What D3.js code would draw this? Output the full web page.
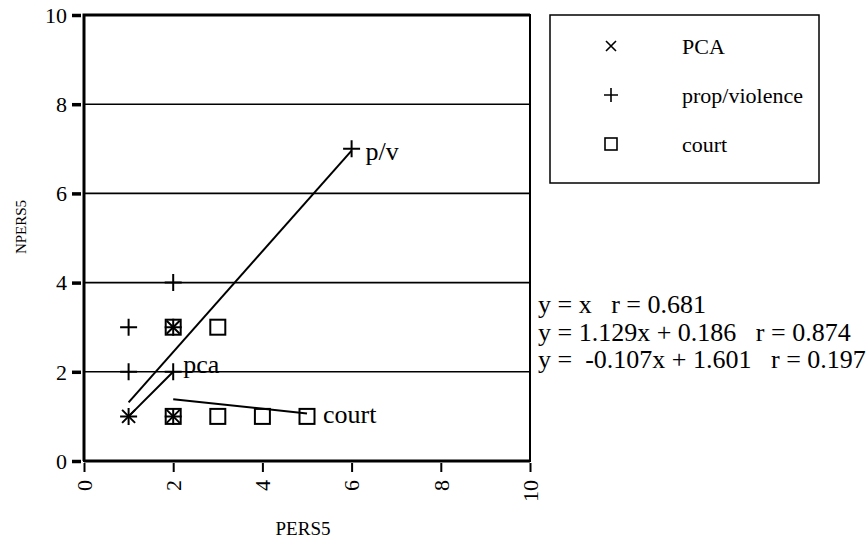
<!DOCTYPE html>
<html>
<head>
<meta charset="utf-8">
<script src="https://cdn.jsdelivr.net/npm/d3@7"></script>
<style>
  body { margin: 0; background: #fff; }
  svg text { font-family: "Liberation Serif", "Times New Roman", serif; white-space: pre; }
</style>
</head>
<body>
<div id="chart"></div>
<script>
(function() {
  /* scatter of PERS5 vs NPERS5 with three fitted lines */
  var pcaX = [1, 2, 2],
      pcaY = [1, 3, 1];
  var pvX = [1, 1, 1, 2, 2, 2, 2, 6],
      pvY = [1, 2, 3, 1, 2, 3, 4, 7];
  var courtX = [2, 2, 3, 3, 4, 5],
      courtY = [1, 3, 1, 3, 1, 1];

  var fitNames = ['pca', 'p/v', 'court'],
      fitSlopes = [1, 1.129, -0.107],
      fitIntercepts = [0, 0.186, 1.601],
      fitFrom = [1, 1, 2],
      fitTo = [2, 6, 5];

  var equations = [
    'y = x   r = 0.681',
    'y = 1.129x + 0.186   r = 0.874',
    'y =  -0.107x + 1.601   r = 0.197'
  ];
  var legendNames = ['PCA', 'prop/violence', 'court'];
  var xTicks = [0, 2, 4, 6, 8, 10],
      yTicks = [0, 2, 4, 6, 8, 10];

  function translate(x, y) {
    return 'translate(' + x + ',' + y + ')';
  }

  var width = 868, height = 540,
      margin = { top: 15, left: 84, right: 338, bottom: 79 },
      pw = width - margin.left - margin.right,
      ph = height - margin.top - margin.bottom,
      x = d3.scaleLinear().domain([0, 10]).range([0, pw]),
      y = d3.scaleLinear().domain([0, 10]).range([ph, 0]);

  // label nudges next to the line ends
  var labelDx = [10, 14, 16],
      labelDy = [1, 9, 10];

  var svg = d3.select('#chart').append('svg')
      .attr('width', width)
      .attr('height', height);

  var g = svg.append('g').attr('transform', translate(margin.left, margin.top));

  // grid lines
  g.selectAll('.grid')
    .data(yTicks.filter(function(d) { return d > 0 && d < 10; }))
    .enter().append('line')
      .attr('x1', 0).attr('x2', pw)
      .attr('y1', function(d) { return y(d); })
      .attr('y2', function(d) { return y(d); })
      .attr('stroke', '#000').attr('stroke-width', 1.6);

  // frame
  g.append('rect')
    .attr('width', pw).attr('height', ph)
    .attr('fill', 'none').attr('stroke', '#000').attr('stroke-width', 2);
  g.append('path')
    .attr('d', 'M0,' + ph + 'V0H' + pw)
    .attr('fill', 'none').attr('stroke', '#000').attr('stroke-width', 3);
  g.append('line')
    .attr('x1', 0).attr('x2', pw).attr('y1', ph).attr('y2', ph)
    .attr('stroke', '#000').attr('stroke-width', 3);

  // y axis
  var yAxis = g.append('g')
    .call(d3.axisLeft(y).tickValues(yTicks).tickSize(0).tickPadding(17))
    .attr('font-family', null).attr('font-size', null);
  yAxis.select('.domain').remove();
  yAxis.selectAll('.tick').append('line')
    .attr('x1', -12).attr('x2', -3)
    .attr('stroke', '#000').attr('stroke-width', 3.5);
  yAxis.selectAll('text')
    .style('font-size', '22px').attr('dy', '0.33em');

  // x axis
  var xAxis = g.append('g')
    .attr('transform', translate(0, ph))
    .call(d3.axisBottom(x).tickValues(xTicks).tickSize(0))
    .attr('font-family', null).attr('font-size', null);
  xAxis.select('.domain').remove();
  xAxis.selectAll('.tick').append('line')
    .attr('y1', 2).attr('y2', 11)
    .attr('stroke', '#000').attr('stroke-width', 2);
  xAxis.selectAll('text')
    .style('font-size', '22px')
    .attr('text-anchor', 'end')
    .attr('transform', 'rotate(-90)')
    .attr('x', -19).attr('y', 0).attr('dy', '0.33em');

  // axis titles
  svg.append('text')
    .attr('transform', translate(26, 227) + ' rotate(-90)')
    .attr('text-anchor', 'middle')
    .style('font-size', '15px')
    .text('NPERS5');
  svg.append('text')
    .attr('x', 303).attr('y', 535)
    .attr('text-anchor', 'middle')
    .style('font-size', '19px')
    .text('PERS5');

  // markers
  function cross(sel, s) {
    sel.append('path')
      .attr('d', 'M' + (-s) + ',' + (-s) + 'L' + s + ',' + s + 'M' + (-s) + ',' + s + 'L' + s + ',' + (-s))
      .attr('stroke', '#000').attr('stroke-width', 2).attr('fill', 'none');
  }
  function plus(sel, s) {
    sel.append('path')
      .attr('d', 'M' + (-s) + ',0H' + s + 'M0,' + (-s) + 'V' + s)
      .attr('stroke', '#000').attr('stroke-width', 2).attr('fill', 'none');
  }
  function square(sel, s) {
    sel.append('rect')
      .attr('x', -s).attr('y', -s).attr('width', 2 * s).attr('height', 2 * s)
      .attr('stroke', '#000').attr('stroke-width', 2).attr('fill', 'none');
  }

  g.selectAll('.court').data(courtX).enter().append('g')
    .attr('transform', function(d, i) { return translate(x(d), y(courtY[i])); })
    .call(square, 7.5);
  g.selectAll('.pca').data(pcaX).enter().append('g')
    .attr('transform', function(d, i) { return translate(x(d), y(pcaY[i])); })
    .call(cross, 6.5);
  g.selectAll('.pv').data(pvX).enter().append('g')
    .attr('transform', function(d, i) { return translate(x(d), y(pvY[i])); })
    .call(plus, 8.5);

  // fitted lines
  g.selectAll('.fit').data(fitNames).enter().append('line')
    .attr('x1', function(d, i) { return x(fitFrom[i]); })
    .attr('x2', function(d, i) { return x(fitTo[i]); })
    .attr('y1', function(d, i) { return y(fitSlopes[i] * fitFrom[i] + fitIntercepts[i]); })
    .attr('y2', function(d, i) { return y(fitSlopes[i] * fitTo[i] + fitIntercepts[i]); })
    .attr('stroke', '#000').attr('stroke-width', 2);

  g.selectAll('.fitlabel').data(fitNames).enter().append('text')
    .attr('x', function(d, i) { return x(fitTo[i]) + labelDx[i]; })
    .attr('y', function(d, i) { return y(fitSlopes[i] * fitTo[i] + fitIntercepts[i]) + labelDy[i]; })
    .style('font-size', '26px')
    .text(function(d) { return d; });

  // equations
  svg.selectAll('.eq').data(equations).enter().append('text')
    .attr('x', 538)
    .attr('y', function(d, i) { return 313 + i * 27.5; })
    .style('font-size', '26px')
    .text(function(d) { return d; });

  // legend
  var legend = svg.append('g').attr('transform', translate(550, 15));
  legend.append('rect')
    .attr('width', 269).attr('height', 168)
    .attr('fill', 'none').attr('stroke', '#000').attr('stroke-width', 1.5);
  var markers = [cross, plus, square],
      sizes = [5, 7, 6];
  legendNames.forEach(function(name, i) {
    var row = legend.append('g').attr('transform', translate(0, 31 + i * 49));
    row.append('g').attr('transform', translate(61, 0))
      .call(markers[i], sizes[i])
      .selectAll('path, rect').attr('stroke-width', 1.6);
    row.append('text')
      .attr('x', 132).attr('dy', '0.35em')
      .style('font-size', '22px')
      .text(name);
  });
})();
</script>
</body>
</html>
